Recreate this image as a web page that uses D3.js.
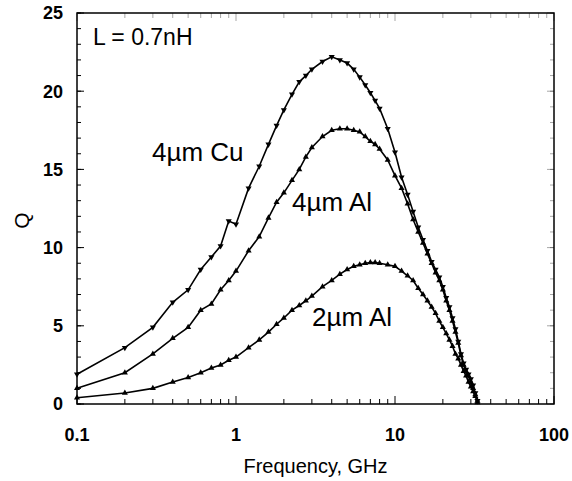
<!DOCTYPE html>
<html>
<head>
<meta charset="utf-8">
<script src="https://cdn.jsdelivr.net/npm/d3@7"></script>
<style>
  body { margin: 0; background: #fff; }
  svg { font-family: "Liberation Sans", Arial, sans-serif; }
  .tick-label { font-weight: bold; font-size: 18px; }
</style>
</head>
<body>
<div id="chart"></div>
<script>
var WIDTH = 572,
    HEIGHT = 481;

var margin = {left: 77, right: 18, top: 13, bottom: 77};

// measured frequencies, GHz
var freqs = [0.1, 0.2, 0.3, 0.4, 0.5, 0.6, 0.7, 0.8, 0.9, 1.0,
    1.2, 1.4, 1.6, 1.8, 2.0, 2.25, 2.5, 2.75, 3.0, 3.5,
    4.0, 4.5, 5.0, 5.5, 6.0, 6.5, 7.0, 7.5, 8.0, 9.0,
    10, 11, 12, 13, 14, 15, 16, 17, 18, 19,
    20, 21, 22, 23, 24, 25, 26, 27, 28, 29,
    30, 31, 32, 33];

var qCu4 = [1.9, 3.6, 4.9, 6.5, 7.3, 8.6, 9.4, 10.1, 11.7, 11.5,
    13.8, 15.2, 16.6, 17.8, 18.8, 19.8, 20.6, 21.0, 21.4, 21.9,
    22.2, 22.0, 21.8, 21.4, 20.9, 20.4, 19.9, 19.4, 18.9, 17.6,
    16.1, 14.5, 13.4, 12.3, 11.3, 10.5, 9.8, 9.1, 8.6, 8.1,
    7.5, 6.8, 6.2, 5.5, 4.8, 4.0, 3.2, 2.6, 2.2, 1.9,
    1.6, 1.2, 0.7, 0.2];

var qAl4 = [1.0, 2.0, 3.2, 4.2, 4.9, 6.0, 6.4, 7.3, 7.9, 8.5,
    9.8, 10.7, 11.9, 12.9, 13.5, 14.3, 15.0, 15.8, 16.4, 17.1,
    17.5, 17.6, 17.6, 17.5, 17.4, 17.1, 16.8, 16.6, 16.3, 15.6,
    14.6, 13.8, 12.8, 11.8, 11.0, 10.3, 9.6, 9.0, 8.4, 7.9,
    7.3, 6.6, 6.0, 5.3, 4.6, 3.9, 3.1, 2.5, 2.1, 1.8,
    1.4, 1.0, 0.6, 0.2];

var qAl2 = [0.4, 0.7, 1.0, 1.4, 1.7, 2.0, 2.3, 2.5, 2.8, 3.0,
    3.6, 4.1, 4.6, 5.1, 5.5, 6.0, 6.3, 6.6, 6.9, 7.5,
    7.9, 8.3, 8.6, 8.8, 8.9, 9.0, 9.05, 9.05, 9.0, 8.9,
    8.8, 8.5, 8.2, 7.9, 7.4, 7.0, 6.6, 6.2, 5.8, 5.3,
    4.9, 4.5, 4.1, 3.7, 3.2, 2.9, 2.5, 2.1, 1.8, 1.4,
    1.1, 0.8, 0.5, 0.1];

var xTickValues = [0.1, 1, 10, 100];
var xTickLabels = ["0.1", "1", "10", "100"];
var yTickValues = [0, 5, 10, 15, 20, 25];

var series = [
    {name: "4\u00b5m Cu", values: qCu4, symbol: "down", lx: 152, ly: 161},
    {name: "4\u00b5m Al", values: qAl4, symbol: "up", lx: 292, ly: 211},
    {name: "2\u00b5m Al", values: qAl2, symbol: "up", lx: 312, ly: 326}
];

var innerW = WIDTH - margin.left - margin.right,
    innerH = HEIGHT - margin.top - margin.bottom;

var svg = d3.select("#chart")
    .append("svg")
    .attr("width", WIDTH)
    .attr("height", HEIGHT);

var g = svg.append("g")
    .attr("transform", "translate(" + margin.left + "," + margin.top + ")");

var x = d3.scaleLog()
    .domain([0.1, 100])
    .range([0, innerW]);

var y = d3.scaleLinear()
    .domain([0, 25])
    .range([innerH, 0]);

// minor ticks
var xMinor = [];
[0.1, 1, 10].forEach(function (dec) {
    for (var k = 2; k <= 9; k++) {
        xMinor.push(dec * k);
    }
});
var yMinor = d3.range(0, 26, 1);

function drawTicks(values, len, opacity) {
    g.selectAll(null)
        .data(values)
        .enter().append("line")
        .attr("x1", function (d) { return x(d); })
        .attr("x2", function (d) { return x(d); })
        .attr("y1", innerH)
        .attr("y2", innerH - len)
        .attr("stroke", "#000")
        .attr("stroke-width", 1);
    g.selectAll(null)
        .data(values)
        .enter().append("line")
        .attr("x1", function (d) { return x(d); })
        .attr("x2", function (d) { return x(d); })
        .attr("y1", 0)
        .attr("y2", len)
        .attr("stroke", "#000")
        .attr("stroke-opacity", opacity)
        .attr("stroke-width", 1);
}

function drawYTicks(values, len, opacity) {
    g.selectAll(null)
        .data(values)
        .enter().append("line")
        .attr("x1", 0)
        .attr("x2", len)
        .attr("y1", function (d) { return y(d); })
        .attr("y2", function (d) { return y(d); })
        .attr("stroke", "#000")
        .attr("stroke-width", 1);
    g.selectAll(null)
        .data(values)
        .enter().append("line")
        .attr("x1", innerW)
        .attr("x2", innerW - len)
        .attr("y1", function (d) { return y(d); })
        .attr("y2", function (d) { return y(d); })
        .attr("stroke", "#000")
        .attr("stroke-opacity", opacity)
        .attr("stroke-width", 1);
}

drawTicks(xMinor, 5, 0.35);
drawTicks(xTickValues, 8, 0.35);
drawYTicks(yMinor, 4, 0.35);
drawYTicks(yTickValues, 7, 0.35);

// frame
g.append("rect")
    .attr("width", innerW)
    .attr("height", innerH)
    .attr("fill", "none")
    .attr("stroke", "#000")
    .attr("stroke-width", 1.5);

// tick labels
g.selectAll(".x-label")
    .data(xTickValues)
    .enter().append("text")
    .attr("class", "tick-label")
    .attr("x", function (d) { return x(d); })
    .attr("y", innerH + 37)
    .attr("text-anchor", "middle")
    .text(function (d, i) { return xTickLabels[i]; });

g.selectAll(".y-label")
    .data(yTickValues)
    .enter().append("text")
    .attr("class", "tick-label")
    .attr("x", -14)
    .attr("y", function (d) { return y(d); })
    .attr("dy", "0.36em")
    .attr("text-anchor", "end")
    .text(function (d) { return d; });

// axis titles
svg.append("text")
    .attr("x", margin.left + innerW / 2)
    .attr("y", 473)
    .attr("text-anchor", "middle")
    .attr("font-size", 20)
    .text("Frequency, GHz");

svg.append("text")
    .attr("transform", "translate(29," + (margin.top + innerH / 2 + 12) + ") rotate(-90)")
    .attr("text-anchor", "middle")
    .attr("font-size", 21)
    .text("Q");

svg.append("text")
    .attr("x", 93)
    .attr("y", 45)
    .attr("font-size", 23)
    .text("L = 0.7nH");

var line = d3.line()
    .x(function (d) { return x(d[0]); })
    .y(function (d) { return y(d[1]); });

var upTri = d3.symbol().type(d3.symbolTriangle).size(16);

series.forEach(function (s) {
    var pts = freqs.map(function (f, i) { return [f, s.values[i]]; });

    g.append("path")
        .datum(pts)
        .attr("d", line)
        .attr("fill", "none")
        .attr("stroke", "#000")
        .attr("stroke-width", 1.6);

    g.selectAll(null)
        .data(pts)
        .enter().append("path")
        .attr("d", upTri)
        .attr("transform", function (d) {
            var rot = s.symbol === "down" ? " rotate(180)" : "";
            return "translate(" + x(d[0]) + "," + y(d[1]) + ")" + rot;
        })
        .attr("fill", "#000");

    svg.append("text")
        .attr("x", s.lx)
        .attr("y", s.ly)
        .attr("font-size", 26)
        .text(s.name);
});
</script>
</body>
</html>
